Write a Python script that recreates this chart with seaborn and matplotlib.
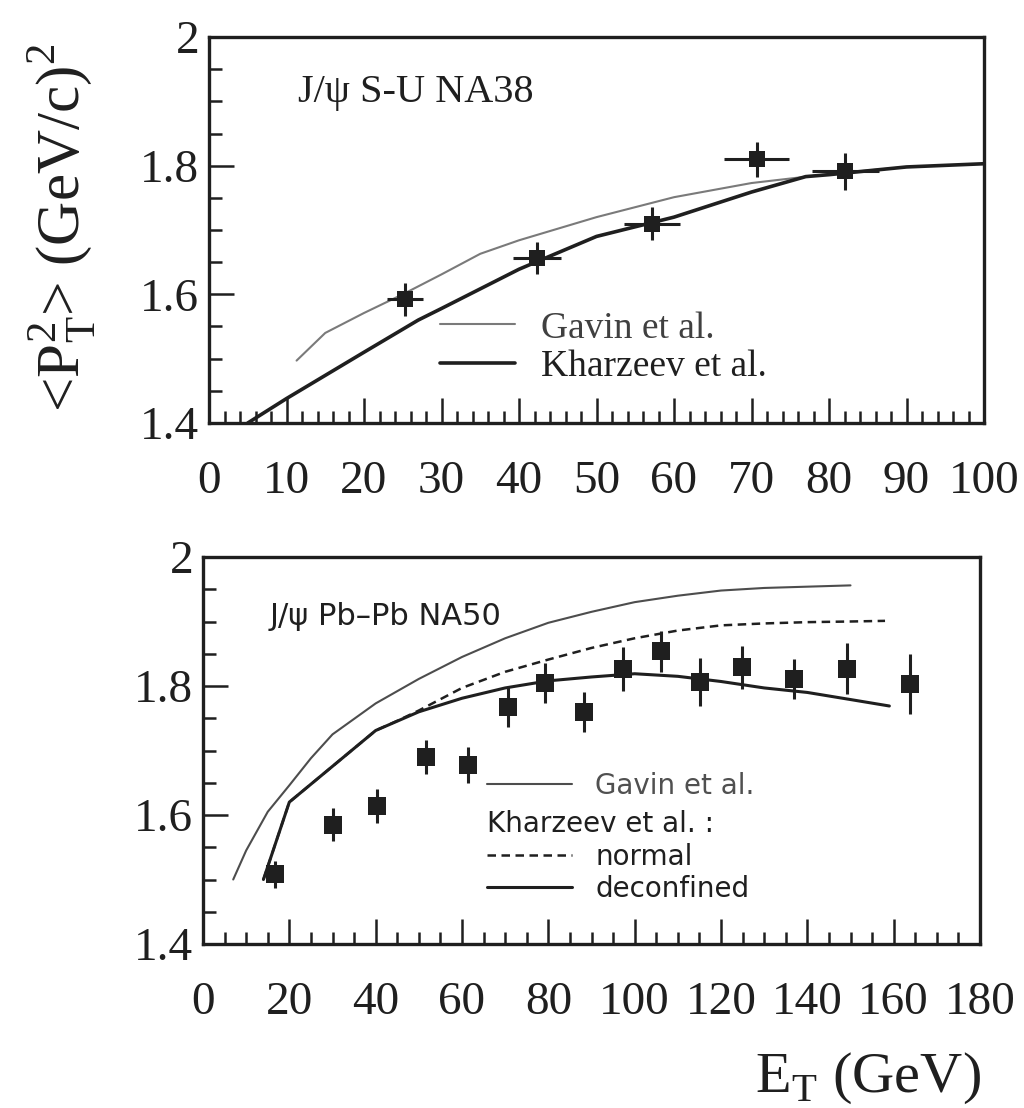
import matplotlib
matplotlib.use("Agg")
import matplotlib.pyplot as plt
from matplotlib.ticker import MultipleLocator, FixedLocator, FixedFormatter
import seaborn as sns

# ---------------- J/psi S-U, NA38 (upper panel) ----------------
su_et = [25.3, 42.3, 57.2, 70.7, 82.1]
su_pt2 = [1.592, 1.656, 1.710, 1.810, 1.791]
su_et_err = [2.3, 3.1, 3.6, 4.2, 4.3]
su_pt2_err = [0.026, 0.025, 0.026, 0.027, 0.029]

su_gavin_et = [11.3, 15, 20, 25, 30, 35, 40, 50, 60, 70, 80, 90]
su_gavin_pt2 = [1.497, 1.540, 1.571, 1.600, 1.631, 1.663, 1.684, 1.720,
                1.751, 1.773, 1.787, 1.798]

su_kharzeev_et = [5, 10, 20, 27, 30, 40, 50, 60, 70, 77, 80, 90, 100]
su_kharzeev_pt2 = [1.400, 1.438, 1.510, 1.560, 1.578, 1.639, 1.690, 1.720,
                   1.759, 1.783, 1.786, 1.798, 1.803]

# ---------------- J/psi Pb-Pb, NA50 (lower panel) ----------------
pb_et = [16.7, 30.2, 40.4, 51.7, 61.4, 70.6, 79.3, 88.3, 97.2, 106.0,
         115.1, 124.9, 137.0, 149.3, 163.8]
pb_pt2 = [1.508, 1.585, 1.614, 1.690, 1.678, 1.767, 1.804, 1.760, 1.827,
          1.854, 1.806, 1.829, 1.811, 1.827, 1.803]
pb_pt2_err = [0.021, 0.026, 0.026, 0.026, 0.028, 0.031, 0.031, 0.031, 0.034,
              0.032, 0.037, 0.033, 0.031, 0.040, 0.046]

pb_gavin_et = [7, 10, 15, 20, 25, 30, 40, 50, 60, 70, 80, 90, 100, 110,
               120, 130, 140, 150]
pb_gavin_pt2 = [1.500, 1.545, 1.605, 1.646, 1.688, 1.725, 1.773, 1.811,
                1.845, 1.874, 1.898, 1.915, 1.930, 1.940, 1.948, 1.952,
                1.954, 1.956]

pb_normal_et = [14, 20, 40, 45, 50, 60, 70, 80, 90, 100, 110, 120, 130,
                140, 150, 158]
pb_normal_pt2 = [1.500, 1.620, 1.731, 1.746, 1.762, 1.797, 1.822, 1.841,
                 1.859, 1.874, 1.886, 1.894, 1.897, 1.899, 1.900, 1.901]

pb_deconf_et = [14, 20, 40, 50, 60, 70, 80, 90, 100, 110, 120, 130, 140,
                150, 159]
pb_deconf_pt2 = [1.500, 1.620, 1.731, 1.760, 1.781, 1.797, 1.808, 1.814,
                 1.819, 1.815, 1.807, 1.797, 1.790, 1.779, 1.769]

# ---------------- axis ticks and labels ----------------
y_ticks = [1.4, 1.6, 1.8, 2.0]
y_ticklabels = ["1.4", "1.6", "1.8", "2"]
su_x_ticks = [0, 10, 20, 30, 40, 50, 60, 70, 80, 90, 100]
pb_x_ticks = [0, 20, 40, 60, 80, 100, 120, 140, 160, 180]

su_title = "J/ψ S-U NA38"
pb_title = "J/ψ Pb–Pb NA50"
su_legend_labels = ["Gavin et al.", "Kharzeev et al."]
pb_gavin_label = "Gavin et al."
pb_kharzeev_title = "Kharzeev et al. :"
pb_kharzeev_labels = ["normal", "deconfined"]
y_label = "<P$_\\mathregular{T}^\\mathregular{2}$> (GeV/c)$^\\mathregular{2}$"
x_label = "E$_\\mathregular{T}$ (GeV)"

INK = "#1f1f1f"

sns.set_theme(style="ticks")
plt.rcParams["font.family"] = ["Liberation Serif", "DejaVu Serif"]
plt.rcParams["axes.edgecolor"] = INK
plt.rcParams["axes.linewidth"] = 2.4
plt.rcParams["xtick.color"] = INK
plt.rcParams["ytick.color"] = INK
plt.rcParams["text.color"] = INK

fig = plt.figure(figsize=(10.24, 11.08), dpi=100)
fig.patch.set_facecolor("white")
ax1 = fig.add_axes([209 / 1024, 1 - 423 / 1108, 775 / 1024, 386 / 1108])
ax2 = fig.add_axes([203 / 1024, 1 - 944 / 1108, 777 / 1024, 387 / 1108])


def style_axes(ax, xmax, xminor, xticks):
    ax.set_xlim(0, xmax)
    ax.set_ylim(1.4, 2.0)
    ax.xaxis.set_major_locator(FixedLocator(xticks))
    ax.xaxis.set_minor_locator(MultipleLocator(xminor))
    ax.yaxis.set_major_locator(FixedLocator(y_ticks))
    ax.yaxis.set_major_formatter(FixedFormatter(y_ticklabels))
    ax.yaxis.set_minor_locator(MultipleLocator(0.05))
    ax.tick_params(which="both", direction="in", top=False, right=False,
                   bottom=True, left=True, width=1.8)
    ax.tick_params(which="major", length=18)
    ax.tick_params(which="minor", length=9)
    ax.tick_params(axis="x", which="major", labelsize=34, pad=27)
    ax.tick_params(axis="y", which="major", labelsize=34, pad=7)
    for s in ax.spines.values():
        s.set_visible(True)
        s.set_linewidth(2.4)
        s.set_color(INK)
    ax.set_xlabel("")
    ax.set_ylabel("")
    ax.set_facecolor("white")


# ---------------- upper panel ----------------
sns.lineplot(x=su_gavin_et, y=su_gavin_pt2, ax=ax1, color="#7a7a7a",
             lw=1.5, sort=False, estimator=None)
h_su_gavin = ax1.lines[-1]
sns.lineplot(x=su_kharzeev_et, y=su_kharzeev_pt2, ax=ax1, color=INK,
             lw=2.6, sort=False, estimator=None)
h_su_kh = ax1.lines[-1]
ax1.errorbar(su_et, su_pt2, xerr=su_et_err, yerr=su_pt2_err, fmt="none",
             ecolor=INK, elinewidth=2.2, capsize=0, zorder=4)
sns.scatterplot(x=su_et, y=su_pt2, ax=ax1, marker="s", s=140, color=INK,
                linewidth=0, zorder=5)
style_axes(ax1, 100, 2, su_x_ticks)
ax1.text(0.115, 0.855, su_title, transform=ax1.transAxes, fontsize=29,
         ha="left", va="center")
leg1 = ax1.legend(handles=[h_su_gavin, h_su_kh], labels=su_legend_labels,
                  loc="upper left", bbox_to_anchor=(0.298, 0.29),
                  frameon=False, fontsize=27, handlelength=2.0,
                  handletextpad=0.7, labelspacing=0.1, borderpad=0,
                  borderaxespad=0)
leg1.get_texts()[0].set_color("#404040")

# ---------------- lower panel ----------------
sns.lineplot(x=pb_gavin_et, y=pb_gavin_pt2, ax=ax2, color="#4d4d4d",
             lw=1.5, sort=False, estimator=None)
h_pb_gavin = ax2.lines[-1]
sns.lineplot(x=pb_normal_et, y=pb_normal_pt2, ax=ax2, color=INK,
             lw=1.8, sort=False, estimator=None)
h_pb_normal = ax2.lines[-1]
h_pb_normal.set_linestyle((0, (3.4, 2.2)))
sns.lineplot(x=pb_deconf_et, y=pb_deconf_pt2, ax=ax2, color=INK,
             lw=2.2, sort=False, estimator=None)
h_pb_deconf = ax2.lines[-1]
ax2.errorbar(pb_et, pb_pt2, yerr=pb_pt2_err, fmt="none", ecolor=INK,
             elinewidth=2.2, capsize=0, zorder=4)
sns.scatterplot(x=pb_et, y=pb_pt2, ax=ax2, marker="s", s=150, color=INK,
                linewidth=0, zorder=5)
style_axes(ax2, 180, 5, pb_x_ticks)
sans = {"family": "DejaVu Sans", "size": 20}
ax2.text(0.086, 0.845, pb_title, transform=ax2.transAxes, ha="left",
         va="center", fontdict={"family": "DejaVu Sans", "size": 22})
leg2a = ax2.legend(handles=[h_pb_gavin], labels=[pb_gavin_label],
                   loc="upper left", bbox_to_anchor=(0.366, 0.445),
                   frameon=False, prop=sans, handlelength=3.06,
                   handletextpad=0.83, borderpad=0, borderaxespad=0)
leg2a.get_texts()[0].set_color("#505050")
ax2.add_artist(leg2a)
leg2b = ax2.legend(handles=[h_pb_normal, h_pb_deconf],
                   labels=pb_kharzeev_labels, title=pb_kharzeev_title,
                   title_fontproperties=sans, alignment="left",
                   loc="upper left", bbox_to_anchor=(0.366, 0.345),
                   frameon=False, prop=sans, handlelength=3.06,
                   handletextpad=0.83, labelspacing=0.15, borderpad=0,
                   borderaxespad=0)

# ---------------- axis titles ----------------
fig.text(62 / 1024, 1 - 228 / 1108, y_label, rotation=90, fontsize=44,
         ha="center", va="center")
fig.text(868 / 1024, 1 - 1078 / 1108, x_label, fontsize=42,
         ha="center", va="center")

fig.savefig("out.png", dpi=100, facecolor="white")
